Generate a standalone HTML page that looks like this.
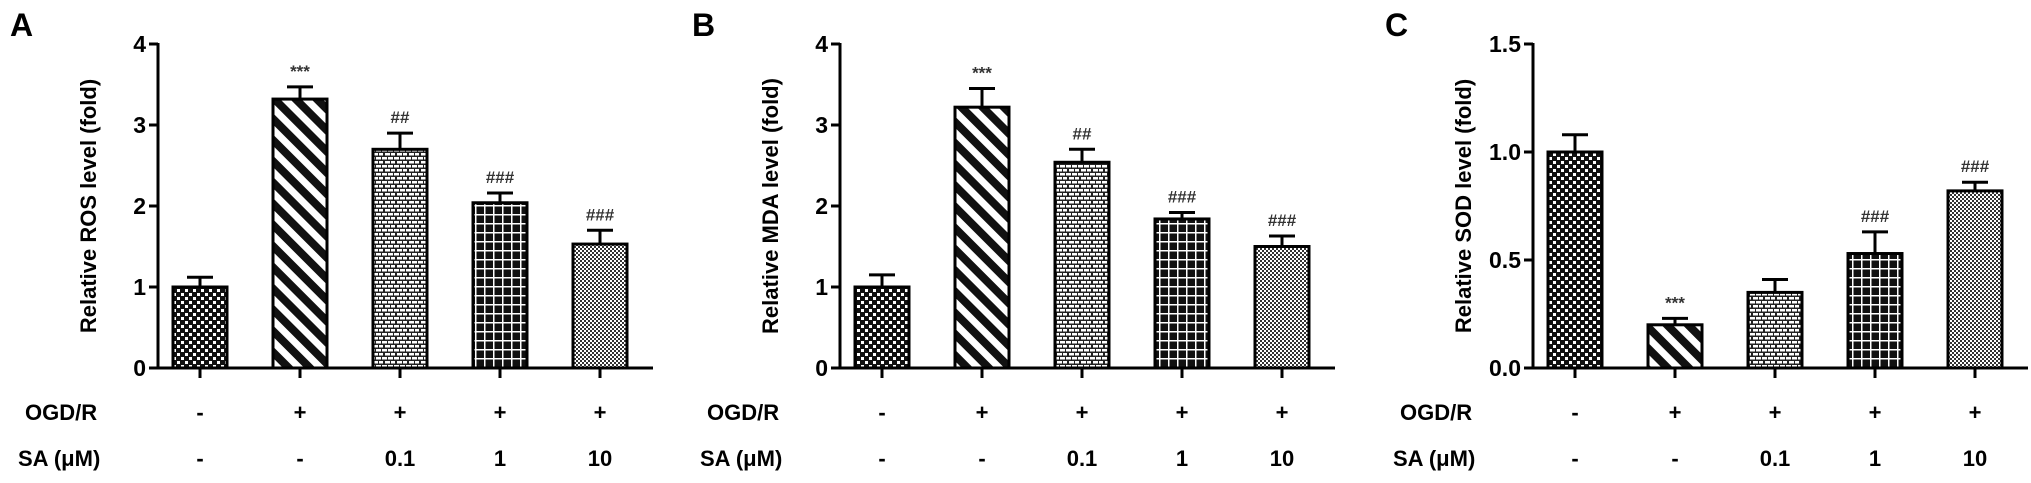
<!DOCTYPE html>
<html><head><meta charset="utf-8">
<style>
html,body{margin:0;padding:0;background:#fff;}
svg{display:block;font-family:"Liberation Sans",Arial,sans-serif;}
</style></head>
<body>
<svg id="fig" width="2031" height="483" viewBox="0 0 2031 483" xmlns="http://www.w3.org/2000/svg">
<defs>
 <pattern id="p0" width="8" height="8" patternUnits="userSpaceOnUse">
  <rect width="8" height="8" fill="#111"/>
  <rect x="1" y="1" width="3" height="3" fill="#fff"/>
  <rect x="5" y="5" width="3" height="3" fill="#fff"/>
 </pattern>
 <pattern id="p1" width="15" height="15" patternUnits="userSpaceOnUse" patternTransform="rotate(-45)">
  <rect width="15" height="15" fill="#fff"/>
  <rect width="8" height="15" fill="#111"/>
 </pattern>
 <pattern id="p2" width="12" height="8" patternUnits="userSpaceOnUse">
  <rect width="12" height="8" fill="#222"/>
  <rect x="1" y="1" width="5" height="2.5" fill="#fff"/>
  <rect x="7" y="1" width="4" height="2.5" fill="#fff"/>
  <rect x="4" y="5" width="5" height="2.5" fill="#fff"/>
  <rect x="-2" y="5" width="5" height="2.5" fill="#fff"/>
  <rect x="10" y="5" width="3" height="2.5" fill="#fff"/>
 </pattern>
 <pattern id="p3" width="9" height="9" patternUnits="userSpaceOnUse">
  <rect width="9" height="9" fill="#111"/>
  <rect x="0" y="7" width="9" height="1.5" fill="#fff"/>
  <rect x="7" y="0" width="1.5" height="9" fill="#fff"/>
 </pattern>
 <pattern id="p4" width="4" height="4" patternUnits="userSpaceOnUse">
  <rect width="4" height="4" fill="#fff"/>
  <rect width="2" height="2" fill="#333"/>
  <rect x="2" y="2" width="2" height="2" fill="#333"/>
 </pattern>
</defs>
</svg>
<script>
const panelLetters = ["A","B","C"];
const yTitles = ["Relative ROS level (fold)","Relative MDA level (fold)","Relative SOD level (fold)"];
const yMax = [4, 4, 1.5];
const yTicksA = ["0","1","2","3","4"];
const yTicksC = ["0.0","0.5","1.0","1.5"];
const ogdLabels = ["-","+","+","+","+"];
const saLabels = ["-","-","0.1","1","10"];
const rosValues = [1.0, 3.32, 2.70, 2.04, 1.53];
const rosErrors = [0.12, 0.15, 0.20, 0.12, 0.17];
const mdaValues = [1.0, 3.22, 2.54, 1.84, 1.50];
const mdaErrors = [0.15, 0.23, 0.16, 0.08, 0.13];
const sodValues = [1.0, 0.20, 0.35, 0.53, 0.82];
const sodErrors = [0.08, 0.03, 0.06, 0.10, 0.04];
const rosMarks = ["","***","##","###","###"];
const mdaMarks = ["","***","##","###","###"];
const sodMarks = ["","***","","###","###"];

const NS = "http://www.w3.org/2000/svg";
const svg = document.getElementById("fig");
function mk(tag, attrs, parent, text){
  const e = document.createElementNS(NS, tag);
  for (const k in attrs) e.setAttribute(k, attrs[k]);
  if (text !== undefined) e.textContent = text;
  (parent || svg).appendChild(e);
  return e;
}
const axisXs = [158, 840, 1533];
const yTop = 44, yZero = 368;
const panels = [
  {vals: rosValues, errs: rosErrors, marks: rosMarks, ticks: yTicksA},
  {vals: mdaValues, errs: mdaErrors, marks: mdaMarks, ticks: yTicksA},
  {vals: sodValues, errs: sodErrors, marks: sodMarks, ticks: yTicksC}
];
panels.forEach((p, pi) => {
  const ax = axisXs[pi];
  const g = mk("g", {});
  
  
  const yScale = v => yZero - (v / yMax[pi]) * (yZero - yTop);
  const xBar = i => ax + 15 + i * 100;
  const bw = 54;
  const letter = mk("text", {x: ax - 148, y: 36, "font-size": 32, "font-weight": "bold"}, g, panelLetters[pi]);
  
  
  const t = mk("text", {x: 0, y: 0, "font-size": 22, "font-weight": "bold", "text-anchor": "middle",
    transform: `translate(${ax - 62},${(yTop + yZero) / 2}) rotate(-90)`}, g, yTitles[pi]);
  
  
  p.vals.forEach((v, i) => {
    const x = xBar(i), y = yScale(v);
    const r = mk("rect", {x: x, y: y, width: bw, height: yZero - y, fill: `url(#p${i})`, stroke: "#000", "stroke-width": 3}, g);
    
    
    const ye = yScale(v + p.errs[i]);
    const eb = mk("path", {d: `M${x + bw / 2},${y} V${ye} M${x + bw / 2 - 13},${ye} H${x + bw / 2 + 13}`, stroke: "#000", "stroke-width": 3, fill: "none"}, g);
    
    
    if (p.marks[i]) {
      const m = mk("text", {x: x + bw / 2, y: ye - 10, "font-size": 17, "font-weight": "bold", fill: "#333", "text-anchor": "middle"}, g, p.marks[i]);
      
      
    }
    const xt = mk("line", {x1: x + bw / 2, x2: x + bw / 2, y1: yZero, y2: yZero + 10, stroke: "#000", "stroke-width": 3}, g);
    
    
    const o = mk("text", {x: x + bw / 2, y: 420, "font-size": 22, "font-weight": "bold", "text-anchor": "middle"}, g, ogdLabels[i]);
    
    
    const s = mk("text", {x: x + bw / 2, y: 466, "font-size": 22, "font-weight": "bold", "text-anchor": "middle"}, g, saLabels[i]);
    
    
  });
  const ya = mk("line", {x1: ax, x2: ax, y1: yTop - 1, y2: yZero + 1.5, stroke: "#000", "stroke-width": 3}, g);
  
  
  const xa = mk("line", {x1: ax - 1.5, x2: ax + 495, y1: yZero, y2: yZero, stroke: "#000", "stroke-width": 3}, g);
  
  
  p.ticks.forEach((lab, k) => {
    const v = k * yMax[pi] / (p.ticks.length - 1);
    const y = yScale(v);
    const tk = mk("line", {x1: ax - 9, x2: ax, y1: y, y2: y, stroke: "#000", "stroke-width": 3}, g);
    
    
    const tl = mk("text", {x: ax - 12, y: y + 8, "font-size": 23, "font-weight": "bold", "text-anchor": "end"}, g, lab);
    
    
  });
  const r1 = mk("text", {x: ax - 133, y: 420, "font-size": 22, "font-weight": "bold"}, g, "OGD/R");
  
  
  const r2 = mk("text", {x: ax - 140, y: 466, "font-size": 22, "font-weight": "bold"}, g, "SA (μM)");
  
  
});
</script>
</body></html>
